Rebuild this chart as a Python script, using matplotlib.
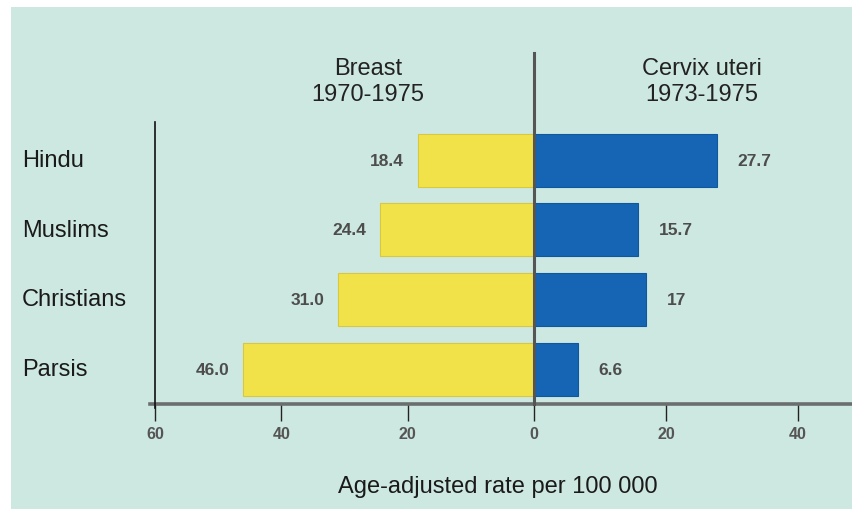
import matplotlib
matplotlib.use("Agg")
import matplotlib.pyplot as plt
from matplotlib.lines import Line2D
from matplotlib.patches import Rectangle

plt.rcParams['font.family'] = ['Liberation Sans', 'DejaVu Sans']

# data
groups = ["Hindu", "Muslims", "Christians", "Parsis"]
breast = [18.4, 24.4, 31.0, 46.0]
cervix = [27.7, 15.7, 17, 6.6]
breast_lbl = ["18.4", "24.4", "31.0", "46.0"]
cervix_lbl = ["27.7", "15.7", "17", "6.6"]
left_ticks = [-60, -40, -20, 0]
right_ticks = [20, 40]

W, H = 852, 510
bg = '#cde8e0'
yellow = '#f2e24a'
blue = '#1565b4'

fig = plt.figure(figsize=(W / 100, H / 100), dpi=100)
fig.patch.set_facecolor('white')

def fx(x):
    return x / W

def fy(y):
    return 1 - y / H

# panel background
fig.patches.append(Rectangle((fx(11), 0), 1 - fx(11), fy(8), transform=fig.transFigure,
                             facecolor=bg, edgecolor='none', zorder=-5))

x0, xz, x1 = 155, 534, 852
ytop, ybot = 123, 405
axL = fig.add_axes([fx(x0), fy(ybot), fx(xz) - fx(x0), fy(ytop) - fy(ybot)])
axR = fig.add_axes([fx(xz), fy(ybot), fx(x1) - fx(xz), fy(ytop) - fy(ybot)])

ypos = [3, 2, 1, 0]
for ax in (axL, axR):
    ax.set_facecolor('none')
    for s in ax.spines.values():
        s.set_visible(False)
    ax.set_ylim(-0.494, 3.546)
    ax.set_yticks([])
    ax.tick_params(axis='x', length=12, width=1, color='#222', pad=4,
                   labelsize=11.5, labelcolor='#555')

axL.set_xlim(-60, 0)
axR.set_xlim(0, 48.2)

axL.barh(ypos, [-v for v in breast], height=0.76, color=yellow, edgecolor='#d8c840', linewidth=0.8)
axR.barh(ypos, cervix, height=0.76, color=blue, edgecolor='#0f579e', linewidth=0.8)

for y, v, t in zip(ypos, breast, breast_lbl):
    axL.annotate(t, (-v, y), xytext=(-10, 0), textcoords='offset points', ha='right', va='center',
                 fontsize=12.5, fontweight='bold', color='#4d4d4d')
for y, v, t in zip(ypos, cervix, cervix_lbl):
    axR.annotate(t, (v, y), xytext=(15, 0), textcoords='offset points', ha='left', va='center',
                 fontsize=12.5, fontweight='bold', color='#4d4d4d')

axL.set_xticks(left_ticks)
axL.set_xticklabels([str(abs(t)) for t in left_ticks], fontweight='bold')
axR.set_xticks(right_ticks)
axR.set_xticklabels([str(t) for t in right_ticks], fontweight='bold')

# axis lines
fig.lines.append(Line2D([fx(150), fx(852)], [fy(405), fy(405)], transform=fig.transFigure,
                        color='#6a6f6e', lw=2.6, zorder=5))
fig.lines.append(Line2D([fx(155), fx(155)], [fy(123), fy(409)], transform=fig.transFigure,
                        color='#111', lw=1.2, zorder=5))
fig.lines.append(Line2D([fx(534), fx(534)], [fy(54), fy(405)], transform=fig.transFigure,
                        color='#555', lw=2.2, zorder=5))

# category labels
for y, g in zip([161, 231, 300, 370], groups):
    fig.text(fx(22), fy(y), g, ha='left', va='center', fontsize=17, color='#1a1a1a')

fig.text(fx(368), fy(69), "Breast", ha='center', va='center', fontsize=17, color='#222')
fig.text(fx(368), fy(95), "1970-1975", ha='center', va='center', fontsize=17, color='#222')
fig.text(fx(702), fy(69), "Cervix uteri", ha='center', va='center', fontsize=17, color='#222')
fig.text(fx(702), fy(95), "1973-1975", ha='center', va='center', fontsize=17, color='#222')
fig.text(fx(498), fy(487), "Age-adjusted rate per 100 000", ha='center', va='center',
         fontsize=17, color='#1a1a1a')

fig.savefig("out.png", dpi=100, facecolor=fig.get_facecolor())
